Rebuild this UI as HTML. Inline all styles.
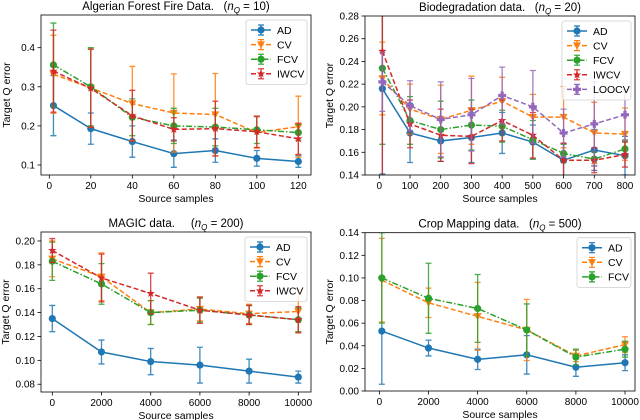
<!DOCTYPE html>
<html><head><meta charset="utf-8">
<style>
body{margin:0;background:#fff;}
svg{display:block;font-family:"Liberation Sans","DejaVu Sans",sans-serif;}
</style></head>
<body>
<svg id="chart" width="640" height="420" viewBox="0 0 640 420" xmlns="http://www.w3.org/2000/svg"></svg>
<script>
// ---- Panel 1: Algerian Forest Fire ----
const p1X = [2, 20, 40, 60, 80, 100, 120];
const p1AD = [0.252, 0.193, 0.160, 0.129, 0.137, 0.117, 0.109];
const p1ADerr = [0.077, 0.040, 0.040, 0.035, 0.030, 0.020, 0.015];
const p1CV = [0.332, 0.297, 0.257, 0.233, 0.229, 0.183, 0.198];
const p1CVerr = [0.100, 0.100, 0.095, 0.100, 0.105, 0.040, 0.078];
const p1FCV = [0.356, 0.300, 0.222, 0.200, 0.197, 0.190, 0.183];
const p1FCVerr = [0.107, 0.100, 0.047, 0.045, 0.048, 0.035, 0.020];
const p1IWCV = [0.340, 0.296, 0.226, 0.191, 0.193, 0.185, 0.167];
const p1IWCVerr = [0.105, 0.100, 0.065, 0.030, 0.070, 0.040, 0.040];
const p1XTicks = [0, 20, 40, 60, 80, 100, 120];
const p1YTicks = [0.1, 0.2, 0.3, 0.4];
const p1YTickLabels = ["0.1", "0.2", "0.3", "0.4"];

// ---- Panel 2: Biodegradation ----
const p2X = [10, 100, 200, 300, 400, 500, 600, 700, 800];
const p2AD = [0.216, 0.177, 0.170, 0.173, 0.177, 0.169, 0.153, 0.162, 0.157];
const p2ADerr = [0.075, 0.026, 0.018, 0.022, 0.018, 0.015, 0.015, 0.018, 0.017];
const p2CV = [0.225, 0.198, 0.189, 0.197, 0.205, 0.191, 0.191, 0.177, 0.176];
const p2CVerr = [0.032, 0.022, 0.030, 0.030, 0.021, 0.020, 0.027, 0.027, 0.023];
const p2FCV = [0.234, 0.188, 0.180, 0.184, 0.183, 0.171, 0.159, 0.154, 0.163];
const p2FCVerr = [0.067, 0.021, 0.025, 0.022, 0.014, 0.017, 0.008, 0.006, 0.007];
const p2IWCV = [0.249, 0.185, 0.175, 0.174, 0.188, 0.175, 0.153, 0.153, 0.158];
const p2IWCVerr = [0.110, 0.021, 0.023, 0.024, 0.018, 0.020, 0.015, 0.011, 0.011];
const p2LOOCV = [0.222, 0.201, 0.189, 0.193, 0.210, 0.200, 0.177, 0.185, 0.193];
const p2LOOCVerr = [0.026, 0.022, 0.033, 0.032, 0.025, 0.032, 0.021, 0.037, 0.022];
const p2XTicks = [0, 100, 200, 300, 400, 500, 600, 700, 800];
const p2YTicks = [0.14, 0.16, 0.18, 0.20, 0.22, 0.24, 0.26, 0.28];
const p2YTickLabels = ["0.14", "0.16", "0.18", "0.20", "0.22", "0.24", "0.26", "0.28"];

// ---- Panel 3: MAGIC ----
const p3X = [0, 2000, 4000, 6000, 8000, 10000];
const p3AD = [0.135, 0.107, 0.099, 0.096, 0.091, 0.086];
const p3ADerr = [0.011, 0.010, 0.011, 0.015, 0.010, 0.005];
const p3CV = [0.185, 0.170, 0.140, 0.143, 0.139, 0.141];
const p3CVerr = [0.015, 0.020, 0.010, 0.010, 0.008, 0.018];
const p3FCV = [0.183, 0.164, 0.140, 0.142, 0.138, 0.134];
const p3FCVerr = [0.016, 0.017, 0.010, 0.010, 0.008, 0.010];
const p3IWCV = [0.192, 0.169, 0.156, 0.142, 0.138, 0.134];
const p3IWCVerr = [0.010, 0.020, 0.017, 0.011, 0.008, 0.011];
const p3XTicks = [0, 2000, 4000, 6000, 8000, 10000];
const p3YTicks = [0.08, 0.10, 0.12, 0.14, 0.16, 0.18, 0.20];
const p3YTickLabels = ["0.08", "0.10", "0.12", "0.14", "0.16", "0.18", "0.20"];

// ---- Panel 4: Crop Mapping ----
const p4X = [100, 2000, 4000, 6000, 8000, 10000];
const p4AD = [0.053, 0.038, 0.028, 0.032, 0.021, 0.025];
const p4ADerr = [0.047, 0.007, 0.009, 0.017, 0.008, 0.007];
const p4CV = [0.098, 0.078, 0.066, 0.054, 0.031, 0.041];
const p4CVerr = [0.037, 0.013, 0.030, 0.027, 0.005, 0.007];
const p4FCV = [0.100, 0.082, 0.073, 0.054, 0.030, 0.037];
const p4FCVerr = [0.040, 0.031, 0.030, 0.023, 0.007, 0.007];
const p4XTicks = [0, 2000, 4000, 6000, 8000, 10000];
const p4YTicks = [0, 0.02, 0.04, 0.06, 0.08, 0.10, 0.12, 0.14];
const p4YTickLabels = ["0.00", "0.02", "0.04", "0.06", "0.08", "0.10", "0.12", "0.14"];

const NS = "http://www.w3.org/2000/svg";
const svg = document.getElementById("chart");
const COL = {AD:"#1f77b4", CV:"#ff7f0e", FCV:"#2ca02c", IWCV:"#d62728", LOOCV:"#9467bd"};
const DASH = {AD:"", CV:"5,2.5", FCV:"6,2,1.5,2", IWCV:"5,2.5", LOOCV:"5,2.5"};

function mk(tag, attrs, parent) {
  const e = document.createElementNS(NS, tag);
  for (const k in attrs) e.setAttribute(k, attrs[k]);
  (parent || svg).appendChild(e);
  return e;
}

function marker(g, name, cx, cy, r) {
  const c = COL[name];
  let e;
  if (name === "CV") {
    e = mk("polygon", {points:`${cx-r},${cy-r*0.8} ${cx+r},${cy-r*0.8} ${cx},${cy+r}`, fill:c}, g);
  } else if (name === "IWCV") {
    let pts = [];
    for (let i = 0; i < 10; i++) {
      const a = -Math.PI/2 + i*Math.PI/5, rr = i%2 ? r*0.45 : r*1.1;
      pts.push((cx+rr*Math.cos(a)).toFixed(2)+","+(cy+rr*Math.sin(a)).toFixed(2));
    }
    e = mk("polygon", {points:pts.join(" "), fill:c}, g);
  } else if (name === "LOOCV") {
    const a = r*0.4;
    e = mk("path", {d:`M${cx-a},${cy-r}h${2*a}v${r-a}h${r-a}v${2*a}h${-(r-a)}v${r-a}h${-2*a}v${-(r-a)}h${-(r-a)}v${-2*a}h${r-a}z`, fill:c}, g);
  } else {
    e = mk("circle", {cx:cx, cy:cy, r:r*0.9, fill:c}, g);
  }
  
  
  return e;
}

function drawPanel(p) {
  const g = mk("g", {});
  
  
  const sx = v => p.L + (v - p.xmin) / (p.xmax - p.xmin) * (p.R - p.L);
  const sy = v => p.B - (v - p.ymin) / (p.ymax - p.ymin) * (p.B - p.T);
  const cid = p.id + "-clip";
  const cp = mk("clipPath", {id:cid}, g);
  mk("rect", {x:p.L, y:p.T, width:p.R-p.L, height:p.B-p.T}, cp);
  p.xt.forEach(v => {
    const x = sx(v);
    const t = mk("line", {x1:x, x2:x, y1:p.B, y2:p.B+3.5, stroke:"#000", "stroke-width":0.8}, g);
    
    
    const lb = mk("text", {x:x, y:p.B+14, "text-anchor":"middle", "font-size":10, fill:"#000"}, g);
    lb.textContent = String(v);
    
    
  });
  p.yt.forEach((v, i) => {
    const y = sy(v);
    const t = mk("line", {x1:p.L-3.5, x2:p.L, y1:y, y2:y, stroke:"#000", "stroke-width":0.8}, g);
    
    
    const lb = mk("text", {x:p.L-6, y:y+3.5, "text-anchor":"end", "font-size":10, fill:"#000"}, g);
    lb.textContent = p.ytl[i];
    
    
  });
  const dg = mk("g", {"clip-path":`url(#${cid})`}, g);
  p.series.forEach(s => {
    const sg = mk("g", {}, dg);
    
    
    const c = COL[s.name];
    s.y.forEach((v, i) => {
      const x = sx(p.x[i]), y1 = sy(v - s.e[i]), y2 = sy(v + s.e[i]);
      const eb = mk("path", {d:`M${x},${y1}V${y2}M${x-3},${y1}h6M${x-3},${y2}h6`, stroke:c, "stroke-width":1.3, fill:"none", opacity:0.85}, sg);
      
      
    });
    const d = s.y.map((v, i) => (i ? "L" : "M") + sx(p.x[i]).toFixed(2) + "," + sy(v).toFixed(2)).join("");
    const ln = mk("path", {d:d, stroke:c, "stroke-width":1.5, fill:"none", "stroke-dasharray":DASH[s.name]}, sg);
    
    
    s.y.forEach((v, i) => marker(sg, s.name, sx(p.x[i]), sy(v), 4));
  });
  const fr = mk("rect", {x:p.L, y:p.T, width:p.R-p.L, height:p.B-p.T, fill:"none", stroke:"#000", "stroke-width":0.8}, g);
  
  
  const tt = mk("text", {x:(p.L+p.R)/2, y:p.T-5, "text-anchor":"middle", "font-size":11.5, fill:"#000"}, g);
  
  
  tt.innerHTML = p.title + '\u00a0\u00a0\u00a0(<tspan font-style="italic">n</tspan><tspan font-style="italic" font-size="8" dy="3">Q</tspan><tspan dy="-3"> = ' + p.nq + ')</tspan>';
  const xl = mk("text", {x:(p.L+p.R)/2, y:p.B+27, "text-anchor":"middle", "font-size":10.5, fill:"#000"}, g);
  xl.textContent = "Source samples";
  
  
  const yx = p.L - p.ylabOff, ymid = (p.T+p.B)/2;
  const yl = mk("text", {x:yx, y:ymid, "text-anchor":"middle", "font-size":10.5, fill:"#000", transform:`rotate(-90 ${yx} ${ymid})`}, g);
  yl.textContent = "Target Q error";
  
  
  const lg = mk("g", {}, g);
  
  
  const n = p.series.length, rowH = 14.6;
  const lw = p.legW, lh = n*rowH + 6;
  const lx = p.R - 4 - lw, ly = p.T + 5;
  mk("rect", {x:lx, y:ly, width:lw, height:lh, rx:2.5, fill:"#fff", "fill-opacity":0.8, stroke:"#d0d0d0", "stroke-width":0.8}, lg);
  p.series.forEach((s, i) => {
    const cy = ly + 10 + i*rowH;
    const eg = mk("g", {}, lg);
    
    
    const c = COL[s.name];
    mk("line", {x1:lx+5, x2:lx+25, y1:cy, y2:cy, stroke:c, "stroke-width":1.5, "stroke-dasharray":DASH[s.name]}, eg);
    mk("path", {d:`M${lx+15},${cy-5}V${cy+5}M${lx+12},${cy-5}h6M${lx+12},${cy+5}h6`, stroke:c, "stroke-width":1.2}, eg);
    marker(eg, s.name, lx+15, cy, 4);
    const t = mk("text", {x:lx+31, y:cy+3.8, "font-size":10.5, fill:"#000"}, eg);
    t.textContent = s.name;
  });
}

drawPanel({id:"panel-algerian", L:41, R:311, T:15, B:175, xmin:-4, xmax:126.1, ymin:0.0744, ymax:0.4836,
  x:p1X, xt:p1XTicks, yt:p1YTicks, ytl:p1YTickLabels, title:"Algerian Forest Fire Data.", nq:10, ylabOff:31, legW:61,
  series:[{name:"AD",y:p1AD,e:p1ADerr},{name:"CV",y:p1CV,e:p1CVerr},{name:"FCV",y:p1FCV,e:p1FCVerr},{name:"IWCV",y:p1IWCV,e:p1IWCVerr}]});
drawPanel({id:"panel-biodegradation", L:365, R:635, T:16, B:175, xmin:-46.6, xmax:832.6, ymin:0.14, ymax:0.28,
  x:p2X, xt:p2XTicks, yt:p2YTicks, ytl:p2YTickLabels, title:"Biodegradation data.", nq:20, ylabOff:32, legW:69,
  series:[{name:"AD",y:p2AD,e:p2ADerr},{name:"CV",y:p2CV,e:p2CVerr},{name:"FCV",y:p2FCV,e:p2FCVerr},{name:"IWCV",y:p2IWCV,e:p2IWCVerr},{name:"LOOCV",y:p2LOOCV,e:p2LOOCVerr}]});
drawPanel({id:"panel-magic", L:41, R:311, T:232, B:392, xmin:-459, xmax:10516, ymin:0.0735, ymax:0.2075,
  x:p3X, xt:p3XTicks, yt:p3YTicks, ytl:p3YTickLabels, title:"MAGIC data.\u00a0\u00a0", nq:200, ylabOff:32, legW:62,
  series:[{name:"AD",y:p3AD,e:p3ADerr},{name:"CV",y:p3CV,e:p3CVerr},{name:"FCV",y:p3FCV,e:p3FCVerr},{name:"IWCV",y:p3IWCV,e:p3IWCVerr}]});
drawPanel({id:"panel-crop-mapping", L:365, R:635, T:232.7, B:391, xmin:-585, xmax:10406, ymin:0, ymax:0.14,
  x:p4X, xt:p4XTicks, yt:p4YTicks, ytl:p4YTickLabels, title:"Crop Mapping data.", nq:500, ylabOff:32, legW:54,
  series:[{name:"AD",y:p4AD,e:p4ADerr},{name:"CV",y:p4CV,e:p4CVerr},{name:"FCV",y:p4FCV,e:p4FCVerr}]});
</script>
</body></html>
